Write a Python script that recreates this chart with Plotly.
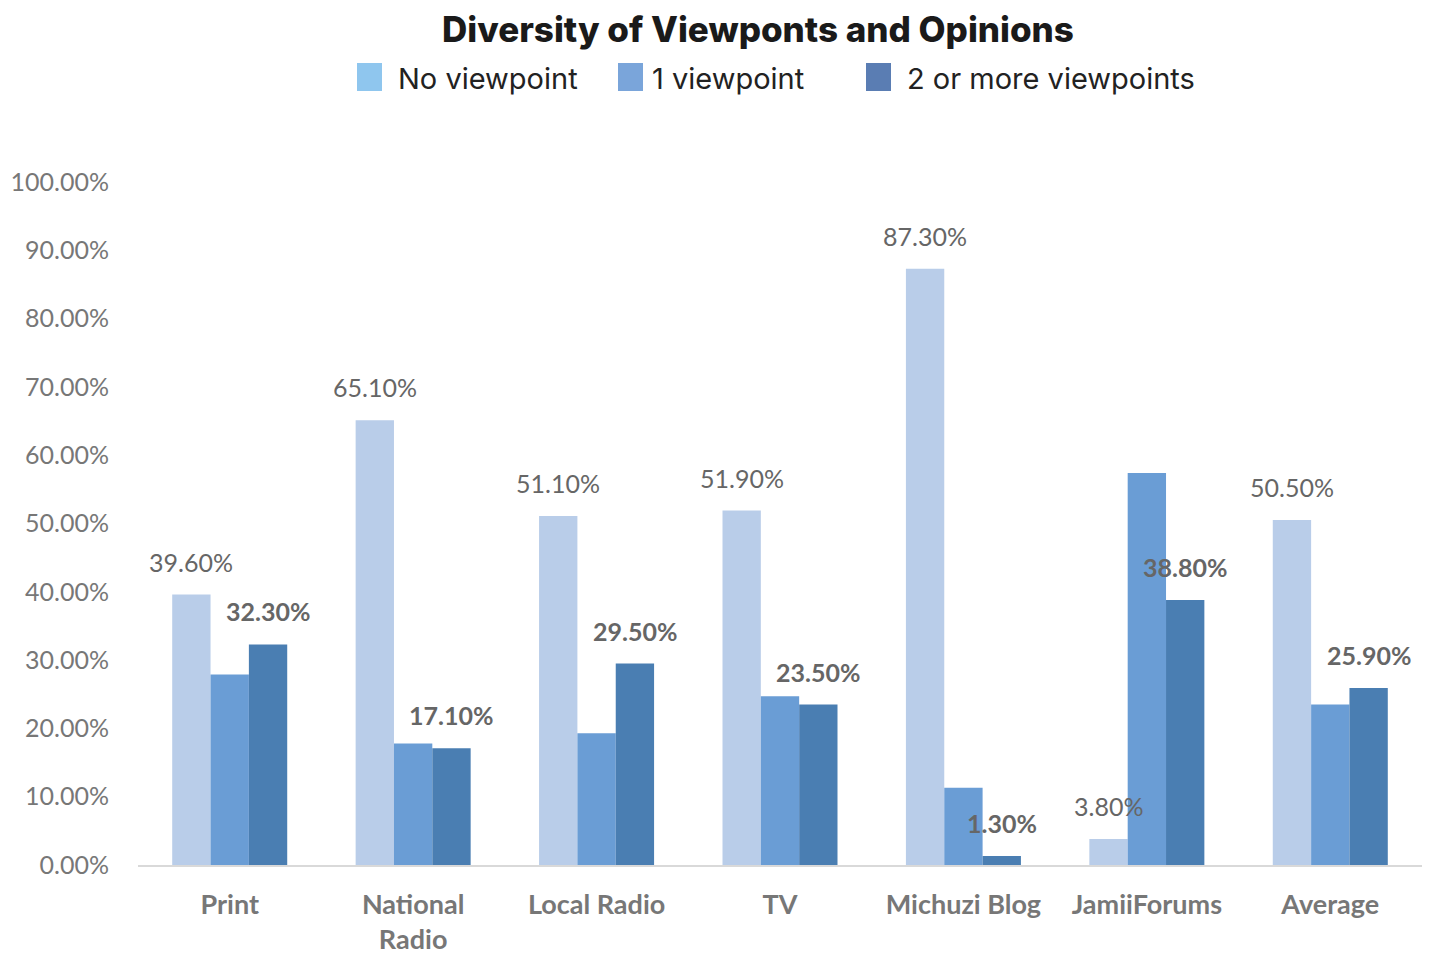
import plotly.graph_objects as go

categories = ["Print", "National<br>Radio", "Local Radio", "TV", "Michuzi Blog", "JamiiForums", "Average"]
no_viewpoint = [0.396, 0.651, 0.511, 0.519, 0.873, 0.038, 0.505]
one_viewpoint = [0.279, 0.178, 0.193, 0.247, 0.113, 0.574, 0.235]
two_plus = [0.323, 0.171, 0.295, 0.235, 0.013, 0.388, 0.259]
y_ticks = [0, 0.1, 0.2, 0.3, 0.4, 0.5, 0.6, 0.7, 0.8, 0.9, 1.0]

series_names = ["No viewpoint", "1 viewpoint", "2 or more viewpoints"]
bar_colors = ["#B9CDE9", "#6A9DD5", "#4A7EB2"]
legend_colors = ["#8FC6EE", "#7AA5DA", "#5A7DB3"]

W, H = 1432, 959
ML, MR, MT, MB = 138, 10, 182, 94
plot_w = W - ML - MR
slot = plot_w / len(categories)
bargap = 0.373
bar_w = slot * (1 - bargap) / 3

fig = go.Figure()
for name, vals, col in zip(series_names, [no_viewpoint, one_viewpoint, two_plus], bar_colors):
    fig.add_trace(go.Bar(x=categories, y=vals, name=name, marker_color=col,
                         marker_line_width=0, showlegend=False))

label_font = dict(family="Lato, Carlito, sans-serif", size=25, color="#666666")
# value labels: first series regular, last series bold
for cat, v in zip(categories, no_viewpoint):
    fig.add_annotation(x=cat, y=v, text=f"{v*100:.2f}%", showarrow=False,
                       xshift=-bar_w, yanchor="bottom", yshift=16, font=label_font)
for cat, v in zip(categories, two_plus):
    fig.add_annotation(x=cat, y=v, text=f"<b>{v*100:.2f}%</b>", showarrow=False,
                       xshift=bar_w, yanchor="bottom", yshift=16, font=label_font)

# title
ph = H - MT - MB
fig.add_annotation(xref="paper", yref="paper", x=(758 - ML) / plot_w, y=1 + (MT - 29) / ph,
                   text="Diversity of Viewponts and Opinions", showarrow=False,
                   xanchor="center", yanchor="middle",
                   font=dict(family="Inter, sans-serif", size=35, color="#1a1a1a", weight=800))

# legend drawn as swatches and labels
legend_items = [(357, 396), (618, 650), (866, 905)]
for (sx, tx), name, col in zip(legend_items, series_names, legend_colors):
    fig.add_shape(type="rect", xref="paper", yref="paper",
                  x0=(sx - ML) / plot_w, x1=(sx + 25 - ML) / plot_w,
                  y0=1 + (MT - 91) / ph, y1=1 + (MT - 63) / ph,
                  fillcolor=col, line_width=0)
    fig.add_annotation(xref="paper", yref="paper", x=(tx - ML) / plot_w, y=1 + (MT - 79) / ph,
                       text=name, showarrow=False, xanchor="left", yanchor="middle",
                       font=dict(family="Inter, sans-serif", size=29, color="#222222"))

fig.update_layout(
    width=W, height=H,
    margin=dict(l=ML, r=MR, t=MT, b=MB),
    paper_bgcolor="white", plot_bgcolor="white",
    barmode="group", bargap=bargap, bargroupgap=0,
    xaxis=dict(showline=True, linecolor="#d9d9d9", linewidth=1.5, ticks="",
               tickfont=dict(family="Lato, Carlito, sans-serif", size=27, color="#777777", weight="bold"),
               tickangle=0, ticklabelstandoff=15, automargin=False),
    yaxis=dict(range=[0, 1.0], tickvals=y_ticks, tickformat=".2%", showgrid=False,
               zeroline=False, showline=False, ticks="", ticklabelstandoff=28, automargin=False,
               tickfont=dict(family="Lato, Carlito, sans-serif", size=25, color="#777777")),
    showlegend=False,
)

fig.write_html("out.html")
